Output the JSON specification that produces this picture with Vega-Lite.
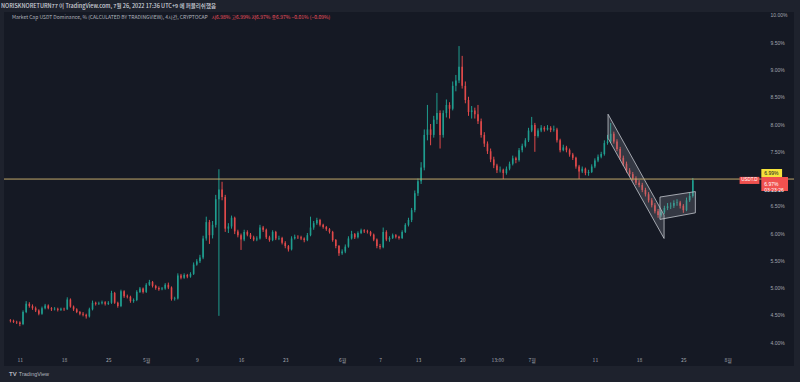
{
"$schema": "https://vega.github.io/schema/vega-lite/v6.json",
"width": 790, "height": 354,
"autosize": {"type": "none"},
"padding": {"left": 4, "right": 6, "top": 12, "bottom": 16},
"background": "#1e222d",
"config": {"view": {"fill": "#151924", "stroke": null}, "font": "Liberation Sans", "axis": {"labelOverlap": false, "labelBound": false, "labelFlush": false}},
"title": {"text": "NORISKNORETURN77 이 TradingView.com, 7월 26, 2022 17:36 UTC+9 에 퍼블리쉬했음", "anchor": "start", "frame": "group", "fontSize": 5.5, "font": "Noto Sans CJK KR", "fontWeight": 500, "color": "#d1d4dc", "offset": 3, "dx": -3},
"datasets": {
"candles": [
{"t":"2022-04-09T12:00","o":4.40,"h":4.42,"l":4.36,"c":4.39},
{"t":"2022-04-10T00:00","o":4.39,"h":4.41,"l":4.35,"c":4.37},
{"t":"2022-04-10T12:00","o":4.37,"h":4.39,"l":4.33,"c":4.36},
{"t":"2022-04-11T00:00","o":4.36,"h":4.38,"l":4.29,"c":4.33},
{"t":"2022-04-11T12:00","o":4.33,"h":4.58,"l":4.31,"c":4.55},
{"t":"2022-04-12T00:00","o":4.55,"h":4.75,"l":4.53,"c":4.70},
{"t":"2022-04-12T12:00","o":4.70,"h":4.73,"l":4.63,"c":4.66},
{"t":"2022-04-13T00:00","o":4.66,"h":4.69,"l":4.59,"c":4.62},
{"t":"2022-04-13T12:00","o":4.62,"h":4.65,"l":4.55,"c":4.58},
{"t":"2022-04-14T00:00","o":4.58,"h":4.60,"l":4.49,"c":4.52},
{"t":"2022-04-14T12:00","o":4.52,"h":4.65,"l":4.50,"c":4.62},
{"t":"2022-04-15T00:00","o":4.62,"h":4.70,"l":4.60,"c":4.67},
{"t":"2022-04-15T12:00","o":4.67,"h":4.69,"l":4.60,"c":4.62},
{"t":"2022-04-16T00:00","o":4.62,"h":4.64,"l":4.57,"c":4.60},
{"t":"2022-04-16T12:00","o":4.60,"h":4.64,"l":4.58,"c":4.61},
{"t":"2022-04-17T00:00","o":4.61,"h":4.63,"l":4.56,"c":4.59},
{"t":"2022-04-17T12:00","o":4.59,"h":4.63,"l":4.57,"c":4.61},
{"t":"2022-04-18T00:00","o":4.61,"h":4.63,"l":4.57,"c":4.60},
{"t":"2022-04-18T12:00","o":4.60,"h":4.82,"l":4.59,"c":4.78},
{"t":"2022-04-19T00:00","o":4.78,"h":4.80,"l":4.63,"c":4.65},
{"t":"2022-04-19T12:00","o":4.65,"h":4.67,"l":4.57,"c":4.60},
{"t":"2022-04-20T00:00","o":4.60,"h":4.62,"l":4.53,"c":4.55},
{"t":"2022-04-20T12:00","o":4.55,"h":4.57,"l":4.49,"c":4.52},
{"t":"2022-04-21T00:00","o":4.52,"h":4.55,"l":4.47,"c":4.50},
{"t":"2022-04-21T12:00","o":4.50,"h":4.52,"l":4.43,"c":4.47},
{"t":"2022-04-22T00:00","o":4.47,"h":4.63,"l":4.45,"c":4.60},
{"t":"2022-04-22T12:00","o":4.60,"h":4.76,"l":4.58,"c":4.72},
{"t":"2022-04-23T00:00","o":4.72,"h":4.74,"l":4.67,"c":4.70},
{"t":"2022-04-23T12:00","o":4.70,"h":4.74,"l":4.68,"c":4.71},
{"t":"2022-04-24T00:00","o":4.71,"h":4.76,"l":4.69,"c":4.73},
{"t":"2022-04-24T12:00","o":4.73,"h":4.75,"l":4.67,"c":4.70},
{"t":"2022-04-25T00:00","o":4.70,"h":4.75,"l":4.68,"c":4.72},
{"t":"2022-04-25T12:00","o":4.72,"h":4.94,"l":4.70,"c":4.90},
{"t":"2022-04-26T00:00","o":4.90,"h":4.92,"l":4.70,"c":4.72},
{"t":"2022-04-26T12:00","o":4.72,"h":4.74,"l":4.63,"c":4.66},
{"t":"2022-04-27T00:00","o":4.66,"h":4.96,"l":4.64,"c":4.93},
{"t":"2022-04-27T12:00","o":4.93,"h":4.95,"l":4.81,"c":4.84},
{"t":"2022-04-28T00:00","o":4.84,"h":4.87,"l":4.80,"c":4.83},
{"t":"2022-04-28T12:00","o":4.83,"h":4.85,"l":4.72,"c":4.75},
{"t":"2022-04-29T00:00","o":4.75,"h":4.80,"l":4.72,"c":4.77},
{"t":"2022-04-29T12:00","o":4.77,"h":4.95,"l":4.75,"c":4.92},
{"t":"2022-04-30T00:00","o":4.92,"h":5.01,"l":4.90,"c":4.98},
{"t":"2022-04-30T12:00","o":4.98,"h":5.00,"l":4.89,"c":4.92},
{"t":"2022-05-01T00:00","o":4.92,"h":5.08,"l":4.90,"c":5.05},
{"t":"2022-05-01T12:00","o":5.05,"h":5.14,"l":5.03,"c":5.10},
{"t":"2022-05-02T00:00","o":5.10,"h":5.12,"l":5.00,"c":5.03},
{"t":"2022-05-02T12:00","o":5.03,"h":5.05,"l":4.96,"c":4.99},
{"t":"2022-05-03T00:00","o":4.99,"h":5.02,"l":4.94,"c":4.97},
{"t":"2022-05-03T12:00","o":4.97,"h":5.01,"l":4.95,"c":4.98},
{"t":"2022-05-04T00:00","o":4.98,"h":5.08,"l":4.96,"c":5.05},
{"t":"2022-05-04T12:00","o":5.05,"h":5.09,"l":4.97,"c":5.00},
{"t":"2022-05-05T00:00","o":5.00,"h":5.02,"l":4.76,"c":4.79},
{"t":"2022-05-05T12:00","o":4.79,"h":4.83,"l":4.76,"c":4.80},
{"t":"2022-05-06T00:00","o":4.80,"h":5.26,"l":4.78,"c":5.22},
{"t":"2022-05-06T12:00","o":5.22,"h":5.25,"l":5.15,"c":5.18},
{"t":"2022-05-07T00:00","o":5.18,"h":5.26,"l":5.16,"c":5.23},
{"t":"2022-05-07T12:00","o":5.23,"h":5.25,"l":5.17,"c":5.20},
{"t":"2022-05-08T00:00","o":5.20,"h":5.28,"l":5.18,"c":5.25},
{"t":"2022-05-08T12:00","o":5.25,"h":5.46,"l":5.23,"c":5.42},
{"t":"2022-05-09T00:00","o":5.42,"h":5.52,"l":5.40,"c":5.48},
{"t":"2022-05-09T12:00","o":5.48,"h":5.60,"l":5.45,"c":5.55},
{"t":"2022-05-10T00:00","o":5.55,"h":5.95,"l":5.52,"c":5.90},
{"t":"2022-05-10T12:00","o":5.90,"h":6.30,"l":5.86,"c":6.20},
{"t":"2022-05-11T00:00","o":6.20,"h":6.24,"l":5.80,"c":5.96},
{"t":"2022-05-11T12:00","o":5.96,"h":6.22,"l":5.90,"c":6.15},
{"t":"2022-05-12T00:00","o":6.15,"h":6.70,"l":6.10,"c":6.62},
{"t":"2022-05-12T12:00","o":6.62,"h":7.17,"l":4.48,"c":6.80},
{"t":"2022-05-13T00:00","o":6.80,"h":6.94,"l":6.60,"c":6.66},
{"t":"2022-05-13T12:00","o":6.66,"h":6.70,"l":6.02,"c":6.08},
{"t":"2022-05-14T00:00","o":6.08,"h":6.18,"l":6.00,"c":6.12},
{"t":"2022-05-14T12:00","o":6.12,"h":6.32,"l":6.08,"c":6.28},
{"t":"2022-05-15T00:00","o":6.28,"h":6.30,"l":5.98,"c":6.03},
{"t":"2022-05-15T12:00","o":6.03,"h":6.06,"l":5.92,"c":5.96},
{"t":"2022-05-16T00:00","o":5.96,"h":5.99,"l":5.69,"c":5.88},
{"t":"2022-05-16T12:00","o":5.88,"h":6.06,"l":5.85,"c":6.02},
{"t":"2022-05-17T00:00","o":6.02,"h":6.05,"l":5.94,"c":5.97},
{"t":"2022-05-17T12:00","o":5.97,"h":6.00,"l":5.89,"c":5.92},
{"t":"2022-05-18T00:00","o":5.92,"h":5.95,"l":5.85,"c":5.88},
{"t":"2022-05-18T12:00","o":5.88,"h":5.94,"l":5.85,"c":5.90},
{"t":"2022-05-19T00:00","o":5.90,"h":6.15,"l":5.88,"c":6.10},
{"t":"2022-05-19T12:00","o":6.10,"h":6.13,"l":6.02,"c":6.06},
{"t":"2022-05-20T00:00","o":6.06,"h":6.08,"l":5.89,"c":5.92},
{"t":"2022-05-20T12:00","o":5.92,"h":5.95,"l":5.84,"c":5.87},
{"t":"2022-05-21T00:00","o":5.87,"h":6.05,"l":5.85,"c":6.02},
{"t":"2022-05-21T12:00","o":6.02,"h":6.04,"l":5.87,"c":5.90},
{"t":"2022-05-22T00:00","o":5.90,"h":5.95,"l":5.87,"c":5.91},
{"t":"2022-05-22T12:00","o":5.91,"h":5.93,"l":5.79,"c":5.82},
{"t":"2022-05-23T00:00","o":5.82,"h":5.85,"l":5.72,"c":5.76},
{"t":"2022-05-23T12:00","o":5.76,"h":5.78,"l":5.66,"c":5.70},
{"t":"2022-05-24T00:00","o":5.70,"h":5.94,"l":5.68,"c":5.90},
{"t":"2022-05-24T12:00","o":5.90,"h":5.97,"l":5.88,"c":5.93},
{"t":"2022-05-25T00:00","o":5.93,"h":5.96,"l":5.89,"c":5.92},
{"t":"2022-05-25T12:00","o":5.92,"h":5.95,"l":5.87,"c":5.90},
{"t":"2022-05-26T00:00","o":5.90,"h":5.92,"l":5.83,"c":5.87},
{"t":"2022-05-26T12:00","o":5.87,"h":6.00,"l":5.85,"c":5.96},
{"t":"2022-05-27T00:00","o":5.96,"h":6.30,"l":5.94,"c":6.10},
{"t":"2022-05-27T12:00","o":6.10,"h":6.22,"l":6.06,"c":6.18},
{"t":"2022-05-28T00:00","o":6.18,"h":6.28,"l":6.15,"c":6.24},
{"t":"2022-05-28T12:00","o":6.24,"h":6.26,"l":6.12,"c":6.15},
{"t":"2022-05-29T00:00","o":6.15,"h":6.17,"l":6.08,"c":6.11},
{"t":"2022-05-29T12:00","o":6.11,"h":6.13,"l":6.04,"c":6.07},
{"t":"2022-05-30T00:00","o":6.07,"h":6.09,"l":5.99,"c":6.02},
{"t":"2022-05-30T12:00","o":6.02,"h":6.04,"l":5.84,"c":5.87},
{"t":"2022-05-31T00:00","o":5.87,"h":5.89,"l":5.72,"c":5.76},
{"t":"2022-05-31T12:00","o":5.76,"h":5.78,"l":5.58,"c":5.63},
{"t":"2022-06-01T00:00","o":5.63,"h":5.70,"l":5.60,"c":5.66},
{"t":"2022-06-01T12:00","o":5.66,"h":5.79,"l":5.63,"c":5.75},
{"t":"2022-06-02T00:00","o":5.75,"h":5.94,"l":5.73,"c":5.90},
{"t":"2022-06-02T12:00","o":5.90,"h":6.04,"l":5.88,"c":5.98},
{"t":"2022-06-03T00:00","o":5.98,"h":6.00,"l":5.89,"c":5.92},
{"t":"2022-06-03T12:00","o":5.92,"h":6.03,"l":5.90,"c":6.00},
{"t":"2022-06-04T00:00","o":6.00,"h":6.08,"l":5.98,"c":6.05},
{"t":"2022-06-04T12:00","o":6.05,"h":6.07,"l":6.00,"c":6.03},
{"t":"2022-06-05T00:00","o":6.03,"h":6.06,"l":5.99,"c":6.02},
{"t":"2022-06-05T12:00","o":6.02,"h":6.04,"l":5.94,"c":5.97},
{"t":"2022-06-06T00:00","o":5.97,"h":5.99,"l":5.85,"c":5.88},
{"t":"2022-06-06T12:00","o":5.88,"h":5.90,"l":5.72,"c":5.76},
{"t":"2022-06-07T00:00","o":5.76,"h":5.80,"l":5.70,"c":5.74},
{"t":"2022-06-07T12:00","o":5.74,"h":6.10,"l":5.72,"c":6.02},
{"t":"2022-06-08T00:00","o":6.02,"h":6.05,"l":5.85,"c":5.88},
{"t":"2022-06-08T12:00","o":5.88,"h":5.94,"l":5.84,"c":5.91},
{"t":"2022-06-09T00:00","o":5.91,"h":5.99,"l":5.89,"c":5.96},
{"t":"2022-06-09T12:00","o":5.96,"h":5.98,"l":5.90,"c":5.93},
{"t":"2022-06-10T00:00","o":5.93,"h":5.95,"l":5.88,"c":5.91},
{"t":"2022-06-10T12:00","o":5.91,"h":6.05,"l":5.89,"c":6.02},
{"t":"2022-06-11T00:00","o":6.02,"h":6.18,"l":6.00,"c":6.15},
{"t":"2022-06-11T12:00","o":6.15,"h":6.28,"l":6.12,"c":6.24},
{"t":"2022-06-12T00:00","o":6.24,"h":6.46,"l":6.20,"c":6.42},
{"t":"2022-06-12T12:00","o":6.42,"h":6.78,"l":6.38,"c":6.73},
{"t":"2022-06-13T00:00","o":6.73,"h":7.00,"l":6.68,"c":6.95},
{"t":"2022-06-13T12:00","o":6.95,"h":7.30,"l":6.90,"c":7.20},
{"t":"2022-06-14T00:00","o":7.20,"h":7.90,"l":7.15,"c":7.80},
{"t":"2022-06-14T12:00","o":7.80,"h":8.35,"l":7.70,"c":7.90},
{"t":"2022-06-15T00:00","o":7.90,"h":8.00,"l":7.61,"c":7.80},
{"t":"2022-06-15T12:00","o":7.80,"h":8.15,"l":7.75,"c":8.08},
{"t":"2022-06-16T00:00","o":8.08,"h":8.57,"l":8.00,"c":8.20},
{"t":"2022-06-16T12:00","o":8.20,"h":8.25,"l":7.55,"c":7.80},
{"t":"2022-06-17T00:00","o":7.80,"h":8.25,"l":7.75,"c":8.20},
{"t":"2022-06-17T12:00","o":8.20,"h":8.45,"l":8.12,"c":8.35},
{"t":"2022-06-18T00:00","o":8.35,"h":8.40,"l":8.10,"c":8.28},
{"t":"2022-06-18T12:00","o":8.28,"h":8.78,"l":8.25,"c":8.70},
{"t":"2022-06-19T00:00","o":8.70,"h":8.90,"l":8.60,"c":8.80},
{"t":"2022-06-19T12:00","o":8.80,"h":9.43,"l":8.75,"c":9.05},
{"t":"2022-06-20T00:00","o":9.05,"h":9.25,"l":8.65,"c":8.70},
{"t":"2022-06-20T12:00","o":8.70,"h":8.78,"l":8.38,"c":8.44},
{"t":"2022-06-21T00:00","o":8.44,"h":8.50,"l":8.15,"c":8.22},
{"t":"2022-06-21T12:00","o":8.22,"h":8.33,"l":8.10,"c":8.25},
{"t":"2022-06-22T00:00","o":8.25,"h":8.30,"l":8.10,"c":8.18},
{"t":"2022-06-22T12:00","o":8.18,"h":8.35,"l":8.00,"c":8.05},
{"t":"2022-06-23T00:00","o":8.05,"h":8.10,"l":7.75,"c":7.80},
{"t":"2022-06-23T12:00","o":7.80,"h":7.85,"l":7.58,"c":7.64},
{"t":"2022-06-24T00:00","o":7.64,"h":7.68,"l":7.45,"c":7.50},
{"t":"2022-06-24T12:00","o":7.50,"h":7.55,"l":7.30,"c":7.35},
{"t":"2022-06-25T00:00","o":7.35,"h":7.40,"l":7.19,"c":7.24},
{"t":"2022-06-25T12:00","o":7.24,"h":7.27,"l":7.10,"c":7.15},
{"t":"2022-06-26T00:00","o":7.15,"h":7.22,"l":7.11,"c":7.16},
{"t":"2022-06-26T12:00","o":7.16,"h":7.18,"l":6.99,"c":7.10},
{"t":"2022-06-27T00:00","o":7.10,"h":7.22,"l":7.07,"c":7.18},
{"t":"2022-06-27T12:00","o":7.18,"h":7.31,"l":7.15,"c":7.27},
{"t":"2022-06-28T00:00","o":7.27,"h":7.42,"l":7.24,"c":7.37},
{"t":"2022-06-28T12:00","o":7.37,"h":7.40,"l":7.28,"c":7.34},
{"t":"2022-06-29T00:00","o":7.34,"h":7.56,"l":7.31,"c":7.52},
{"t":"2022-06-29T12:00","o":7.52,"h":7.64,"l":7.48,"c":7.60},
{"t":"2022-06-30T00:00","o":7.60,"h":7.74,"l":7.57,"c":7.70},
{"t":"2022-06-30T12:00","o":7.70,"h":7.93,"l":7.67,"c":7.88},
{"t":"2022-07-01T00:00","o":7.88,"h":8.13,"l":7.85,"c":7.98},
{"t":"2022-07-01T12:00","o":7.98,"h":8.02,"l":7.49,"c":7.78},
{"t":"2022-07-02T00:00","o":7.78,"h":7.92,"l":7.75,"c":7.88},
{"t":"2022-07-02T12:00","o":7.88,"h":7.98,"l":7.85,"c":7.93},
{"t":"2022-07-03T00:00","o":7.93,"h":7.96,"l":7.86,"c":7.90},
{"t":"2022-07-03T12:00","o":7.90,"h":7.98,"l":7.88,"c":7.93},
{"t":"2022-07-04T00:00","o":7.93,"h":7.96,"l":7.85,"c":7.89},
{"t":"2022-07-04T12:00","o":7.89,"h":7.97,"l":7.86,"c":7.90},
{"t":"2022-07-05T00:00","o":7.90,"h":7.93,"l":7.66,"c":7.70},
{"t":"2022-07-05T12:00","o":7.70,"h":7.73,"l":7.48,"c":7.52},
{"t":"2022-07-06T00:00","o":7.52,"h":7.62,"l":7.50,"c":7.57},
{"t":"2022-07-06T12:00","o":7.57,"h":7.60,"l":7.48,"c":7.52},
{"t":"2022-07-07T00:00","o":7.52,"h":7.55,"l":7.40,"c":7.44},
{"t":"2022-07-07T12:00","o":7.44,"h":7.47,"l":7.34,"c":7.38},
{"t":"2022-07-08T00:00","o":7.38,"h":7.40,"l":7.18,"c":7.22},
{"t":"2022-07-08T12:00","o":7.22,"h":7.25,"l":6.99,"c":7.13},
{"t":"2022-07-09T00:00","o":7.13,"h":7.22,"l":7.10,"c":7.18},
{"t":"2022-07-09T12:00","o":7.18,"h":7.20,"l":7.06,"c":7.10},
{"t":"2022-07-10T00:00","o":7.10,"h":7.16,"l":7.05,"c":7.12},
{"t":"2022-07-10T12:00","o":7.12,"h":7.26,"l":7.10,"c":7.22},
{"t":"2022-07-11T00:00","o":7.22,"h":7.37,"l":7.19,"c":7.33},
{"t":"2022-07-11T12:00","o":7.33,"h":7.44,"l":7.30,"c":7.40},
{"t":"2022-07-12T00:00","o":7.40,"h":7.49,"l":7.37,"c":7.45},
{"t":"2022-07-12T12:00","o":7.45,"h":7.70,"l":7.42,"c":7.65},
{"t":"2022-07-13T00:00","o":7.65,"h":7.80,"l":7.62,"c":7.68},
{"t":"2022-07-13T12:00","o":7.68,"h":8.02,"l":7.65,"c":7.82},
{"t":"2022-07-14T00:00","o":7.82,"h":7.86,"l":7.64,"c":7.68},
{"t":"2022-07-14T12:00","o":7.68,"h":7.72,"l":7.50,"c":7.54},
{"t":"2022-07-15T00:00","o":7.54,"h":7.58,"l":7.34,"c":7.38},
{"t":"2022-07-15T12:00","o":7.38,"h":7.42,"l":7.23,"c":7.27},
{"t":"2022-07-16T00:00","o":7.27,"h":7.31,"l":7.11,"c":7.15},
{"t":"2022-07-16T12:00","o":7.15,"h":7.19,"l":7.04,"c":7.08},
{"t":"2022-07-17T00:00","o":7.08,"h":7.12,"l":6.96,"c":7.00},
{"t":"2022-07-17T12:00","o":7.00,"h":7.04,"l":6.88,"c":6.92},
{"t":"2022-07-18T00:00","o":6.92,"h":6.97,"l":6.84,"c":6.88},
{"t":"2022-07-18T12:00","o":6.88,"h":6.92,"l":6.75,"c":6.79},
{"t":"2022-07-19T00:00","o":6.79,"h":6.83,"l":6.67,"c":6.71},
{"t":"2022-07-19T12:00","o":6.71,"h":6.75,"l":6.56,"c":6.60},
{"t":"2022-07-20T00:00","o":6.60,"h":6.64,"l":6.47,"c":6.51},
{"t":"2022-07-20T12:00","o":6.51,"h":6.55,"l":6.36,"c":6.40},
{"t":"2022-07-21T00:00","o":6.40,"h":6.44,"l":6.28,"c":6.33},
{"t":"2022-07-21T12:00","o":6.33,"h":6.42,"l":6.30,"c":6.38},
{"t":"2022-07-22T00:00","o":6.38,"h":6.50,"l":6.35,"c":6.46},
{"t":"2022-07-22T12:00","o":6.46,"h":6.55,"l":6.42,"c":6.49},
{"t":"2022-07-23T00:00","o":6.49,"h":6.56,"l":6.44,"c":6.50},
{"t":"2022-07-23T12:00","o":6.50,"h":6.60,"l":6.46,"c":6.55},
{"t":"2022-07-24T00:00","o":6.55,"h":6.62,"l":6.50,"c":6.56},
{"t":"2022-07-24T12:00","o":6.56,"h":6.59,"l":6.45,"c":6.50},
{"t":"2022-07-25T00:00","o":6.50,"h":6.53,"l":6.37,"c":6.42},
{"t":"2022-07-25T12:00","o":6.42,"h":6.65,"l":6.40,"c":6.60},
{"t":"2022-07-26T00:00","o":6.60,"h":6.74,"l":6.57,"c":6.68},
{"t":"2022-07-26T12:00","o":6.68,"h":7.01,"l":6.65,"c":6.97}
],
"channels": [
{"ch":"down","t":"2022-07-13T02:00","top":8.18,"bot":7.74},
{"ch":"down","t":"2022-07-21T22:48","top":6.33,"bot":5.90},
{"ch":"flag","t":"2022-07-21T07:12","top":6.66,"bot":6.25},
{"ch":"flag","t":"2022-07-26T21:36","top":6.76,"bot":6.37}
],
"boxes": [
{"lab":"USDT.D","fill":"red","a":"2022-08-02T21:36","b":"2022-08-06T00:43","y1":7.03,"y2":6.90},
{"lab":"6.99%","fill":"yellow","a":"2022-08-06T08:10","b":"2022-08-09T15:00","y1":7.174,"y2":7.028},
{"lab":"6.97%","fill":"red","a":"2022-08-06T08:10","b":"2022-08-10T13:26","y1":7.028,"y2":6.771}
],
"one": [{}]
},
"layer": [
{
"data": {"name": "candles"},
"mark": {"type": "rule", "strokeWidth": 1},
"encoding": {
"x": {"field": "t", "type": "temporal",
"scale": {"domain": [{"year":2022,"month":4,"date":9,"hours":6,"minutes":45},{"year":2022,"month":8,"date":10,"hours":17,"minutes":17}]},
"axis": {"orient": "bottom", "offset": -10, "title": null, "domain": false, "ticks": false, "grid": false, "labelPadding": 1.5, "labelFontSize": 5, "labelColor": "#a3a6af", "labelFlush": false, "labelOverlap": false, "tickCount": 40,
"values": [{"year":2022,"month":4,"date":11},{"year":2022,"month":4,"date":18},{"year":2022,"month":4,"date":25},{"year":2022,"month":5,"date":1},{"year":2022,"month":5,"date":9},{"year":2022,"month":5,"date":16},{"year":2022,"month":5,"date":23},{"year":2022,"month":6,"date":1},{"year":2022,"month":6,"date":7},{"year":2022,"month":6,"date":13},{"year":2022,"month":6,"date":20},{"year":2022,"month":6,"date":25,"hours":13},{"year":2022,"month":7,"date":1},{"year":2022,"month":7,"date":11},{"year":2022,"month":7,"date":18},{"year":2022,"month":7,"date":25},{"year":2022,"month":8,"date":1}],
"labelFont": "Noto Sans CJK KR",
"labelExpr": "hours(datum.value) == 13 ? '13:00' : (date(datum.value) == 1 ? (month(datum.value) + 1) + '월' : '' + date(datum.value))"}},
"y": {"field": "l", "type": "quantitative",
"scale": {"domain": [3.56, 10.055], "nice": false, "zero": false},
"axis": {"orient": "right", "offset": -24, "title": null, "domain": false, "ticks": false, "grid": false, "labelPadding": 0, "labelFontSize": 5, "labelColor": "#a3a6af", "labelFlush": false, "labelOverlap": false, "labelAlign": "left", "tickCount": 40,
"values": [4, 4.5, 5, 5.5, 6, 6.5, 7.5, 8, 8.5, 9, 9.5, 10],
"labelExpr": "format(datum.value, '.2f') + '%'"}},
"y2": {"field": "h"},
"color": {"condition": {"test": "datum.c >= datum.o", "value": "#1f9d8f"}, "value": "#e0494a"}
}
},
{
"data": {"name": "candles"},
"mark": {"type": "bar", "width": 1.6},
"encoding": {
"x": {"field": "t", "type": "temporal"},
"y": {"field": "o", "type": "quantitative"},
"y2": {"field": "c"},
"color": {"condition": {"test": "datum.c >= datum.o", "value": "#1f9d8f"}, "value": "#e0494a"}
}
},
{
"data": {"name": "channels"},
"mark": {"type": "area", "fill": "#9598a1", "fillOpacity": 0.25, "stroke": "#c3c6ce", "strokeWidth": 0.8},
"encoding": {
"x": {"field": "t", "type": "temporal"},
"y": {"field": "top", "type": "quantitative"},
"y2": {"field": "bot"},
"detail": {"field": "ch"}
}
},
{
"data": {"name": "one"},
"mark": {"type": "rule", "stroke": "#c2a86a", "strokeWidth": 1},
"encoding": {"y": {"datum": 6.99}}
},
{
"data": {"name": "boxes"},
"mark": {"type": "rect"},
"encoding": {
"x": {"field": "a", "type": "temporal"},
"x2": {"field": "b"},
"y": {"field": "y1", "type": "quantitative"},
"y2": {"field": "y2"},
"color": {"field": "fill", "type": "nominal", "scale": {"domain": ["red", "yellow"], "range": ["#f0514f", "#f5e33b"]}, "legend": null}
}
},
{
"data": {"name": "one"},
"mark": {"type": "text", "align": "center", "baseline": "middle", "fontSize": 4.5, "color": "#ffffff"},
"encoding": {"x": {"datum": {"year":2022,"month":8,"date":4,"hours":11}}, "y": {"datum": 6.965}, "text": {"value": "USDT.D"}}
},
{
"data": {"name": "one"},
"mark": {"type": "text", "align": "left", "baseline": "middle", "fontSize": 5, "color": "#131722"},
"encoding": {"x": {"datum": {"year":2022,"month":8,"date":6,"hours":19,"minutes":30}}, "y": {"datum": 7.10}, "text": {"value": "6.99%"}}
},
{
"data": {"name": "one"},
"mark": {"type": "text", "align": "left", "baseline": "middle", "fontSize": 5, "color": "#ffffff", "lineHeight": 6.5},
"encoding": {"x": {"datum": {"year":2022,"month":8,"date":6,"hours":19,"minutes":30}}, "y": {"datum": 6.90}, "text": {"value": ["6.97%", "03:23:26"]}}
},
{
"data": {"name": "one"},
"mark": {"type": "text", "align": "left", "baseline": "middle", "fontSize": 5, "font": "Noto Sans CJK KR", "color": "#b2b5be"},
"encoding": {"x": {"datum": {"year":2022,"month":4,"date":9,"hours":18}}, "y": {"datum": 9.963}, "text": {"value": "Market Cap USDT Dominance, % (CALCULATED BY TRADINGVIEW), 4시간, CRYPTOCAP"}}
},
{
"data": {"name": "one"},
"mark": {"type": "text", "align": "left", "baseline": "middle", "fontSize": 5, "font": "Noto Sans CJK KR", "color": "#f7525f"},
"encoding": {"x": {"datum": {"year":2022,"month":5,"date":11,"hours":7,"minutes":30}}, "y": {"datum": 9.963}, "text": {"value": "시6.98%  고6.99%  저6.97%  종6.97%  −0.01% (−0.09%)"}}
},
{
"data": {"name": "one"},
"mark": {"type": "text", "align": "left", "baseline": "middle", "fontSize": 6, "fontWeight": "bold", "color": "#b2b5be"},
"encoding": {"x": {"datum": {"year":2022,"month":4,"date":9,"hours":6,"minutes":45}}, "y": {"datum": 3.413}, "text": {"value": "TV"}}
},
{
"data": {"name": "one"},
"mark": {"type": "text", "align": "left", "baseline": "middle", "fontSize": 5.5, "color": "#b2b5be"},
"encoding": {"x": {"datum": {"year":2022,"month":4,"date":10,"hours":20}}, "y": {"datum": 3.413}, "text": {"value": "TradingView"}}
}
]
}
